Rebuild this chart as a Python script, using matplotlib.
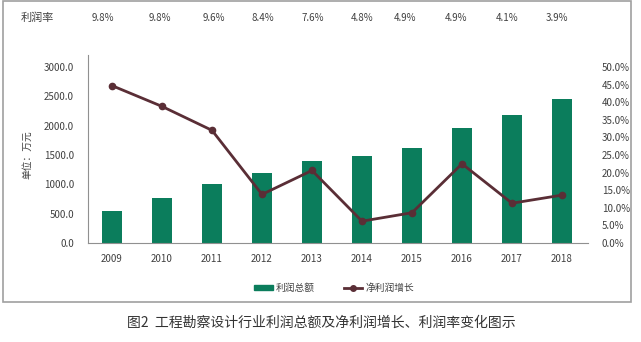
import matplotlib
import matplotlib.pyplot as plt
from matplotlib.patches import Rectangle
from matplotlib.lines import Line2D
from matplotlib.ticker import FuncFormatter
matplotlib.use('Agg')

plt.rcParams['font.family'] = ['Noto Sans CJK SC', 'DejaVu Sans']

years = ['2009', '2010', '2011', '2012', '2013', '2014', '2015', '2016', '2017', '2018']
profit_total = [550, 770, 1010, 1190, 1405, 1480, 1615, 1955, 2180, 2450]
net_growth = [44.7, 38.8, 32.0, 13.8, 20.6, 6.2, 8.6, 22.5, 11.3, 13.6]
profit_rate = ['9.8%', '9.8%', '9.6%', '8.4%', '7.6%', '4.8%', '4.9%', '4.9%', '4.1%', '3.9%']

bar_color = '#0b7d5c'
line_color = '#5a2e36'
text_color = '#404040'

W, H = 641, 342
fig = plt.figure(figsize=(W / 100, H / 100), dpi=100)

# outer frame
fig.patches.append(Rectangle((3 / W, 1 - 302 / H), 628 / W, 301 / H,
                             transform=fig.transFigure, fill=False,
                             edgecolor='#a0a0a0', lw=1.2))

ax = fig.add_axes([88 / W, 1 - 243 / H, 500 / W, 188 / H])
x = list(range(len(years)))
ax.bar(x, profit_total, width=0.4, color=bar_color, zorder=2)
ax.set_xlim(-0.48, 9.52)
ax.set_ylim(0, 3205)
ax.set_yticks([0, 500, 1000, 1500, 2000, 2500, 3000])
ax.yaxis.set_major_formatter(FuncFormatter(lambda v, p: f'{v:.1f}'))
ax.set_xticks(x)
ax.set_xticklabels(years)
for s in ['top', 'right']:
    ax.spines[s].set_visible(False)
ax.spines['left'].set_color('#909090')
ax.spines['bottom'].set_color('#909090')
ax.tick_params(axis='both', length=0, labelsize=7, colors=text_color, pad=8)
ax.tick_params(axis='y', pad=10)
ax.set_ylabel('单位：万元', fontsize=7, color=text_color)
ax.yaxis.set_label_coords(-0.112, 0.47)

ax2 = ax.twinx()
ax2.plot(x, net_growth, color=line_color, lw=2, marker='o', markersize=4.5, zorder=3)
ax2.set_ylim(0, 53.4)
ax2.set_yticks([i * 5 for i in range(11)])
ax2.yaxis.set_major_formatter(FuncFormatter(lambda v, p: f'{v:.1f}%'))
for s in ['top', 'right', 'left', 'bottom']:
    ax2.spines[s].set_visible(False)
ax2.tick_params(axis='y', length=0, labelsize=7, colors=text_color, pad=10)

# profit rate row
fig.text(37 / W, 1 - 18 / H, '利润率', ha='center', va='center', fontsize=8, color=text_color)
rate_x = [103, 160, 214, 263, 313, 362, 405, 456, 507, 557]
for px, r in zip(rate_x, profit_rate):
    fig.text(px / W, 1 - 18 / H, r, ha='center', va='center', fontsize=7, color=text_color)

# legend
handles = [Rectangle((0, 0), 1, 1, color=bar_color),
           Line2D([0], [0], color=line_color, lw=2, marker='o', markersize=4)]
fig.legend(handles, ['利润总额', '净利润增长'], loc='center', bbox_to_anchor=(334 / W, 1 - 288 / H),
           ncol=2, frameon=False, fontsize=7, handlelength=1.9, handleheight=0.5,
           columnspacing=3, handletextpad=0.3, labelcolor=text_color)

# caption
fig.text(321 / W, 1 - 323 / H, '图2  工程勘察设计行业利润总额及净利润增长、利润率变化图示',
         ha='center', va='center', fontsize=10, color='#333333')

fig.savefig('out.png', dpi=100)
